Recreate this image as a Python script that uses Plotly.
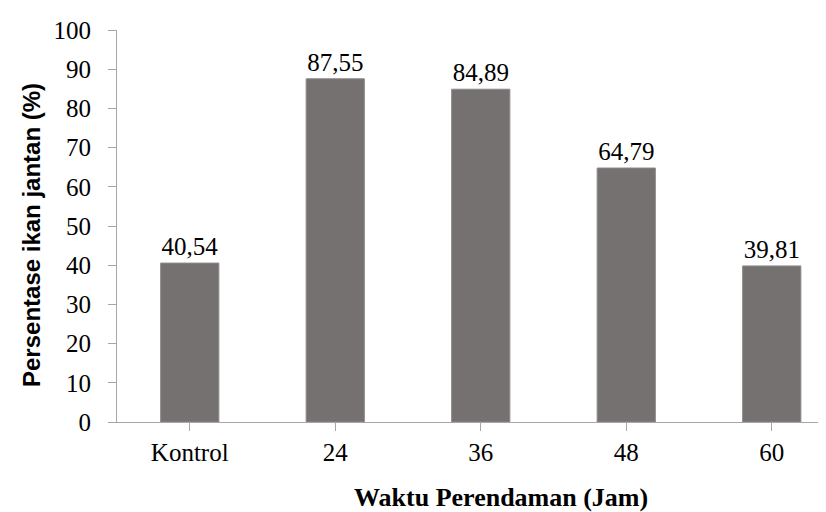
import plotly.graph_objects as go

categories = ["Kontrol", "24", "36", "48", "60"]
values = [40.54, 87.55, 84.89, 64.79, 39.81]
y_ticks = [0, 10, 20, 30, 40, 50, 60, 70, 80, 90, 100]

W, H = 826, 512
L, R, T, B = 109, 0, 22, 98
pw, ph = W - L - R, H - T - B

serif = "Liberation Serif"
axis_col = "#a6a6a6"

fig = go.Figure(go.Bar(
    x=list(range(len(categories))),
    y=values,
    width=0.4,
    marker=dict(color="#767171", line=dict(color="#8c8888", width=1)),
    texttemplate="%{y:.2f}",
    textposition="outside",
    textfont=dict(family=serif, size=25, color="#000"),
    cliponaxis=False,
))

fig.update_layout(
    width=W, height=H,
    margin=dict(l=L, r=R, t=T, b=B, pad=0),
    paper_bgcolor="white", plot_bgcolor="white",
    separators=", ",
    showlegend=False,
    font=dict(family=serif, size=25, color="#000"),
    bargap=0.6,
)

fig.update_xaxes(
    range=[-0.5, -0.5 + pw / 145.5],
    tickmode="array",
    tickvals=list(range(len(categories))),
    ticktext=categories,
    ticks="outside", ticklen=8, tickcolor=axis_col, tickwidth=1,
    tickson="boundaries",
    showline=True, linecolor=axis_col, linewidth=1,
    showgrid=False, zeroline=False,
    tickfont=dict(family=serif, size=25, color="#000"),
    ticklabelstandoff=0,
)

fig.update_yaxes(
    range=[0, 100],
    tickvals=y_ticks,
    ticks="outside", ticklen=8, tickcolor=axis_col, tickwidth=1,
    showline=True, linecolor=axis_col, linewidth=1,
    showgrid=False, zeroline=False,
    tickfont=dict(family=serif, size=25, color="#000"),
    ticklabelstandoff=12,
)

fig.add_annotation(
    text="<b>Persentase ikan jantan (%)</b>",
    xref="paper", yref="paper",
    x=(23 - L) / pw, y=(T + ph - 227) / ph,
    xanchor="center", yanchor="middle",
    textangle=-90, showarrow=False,
    font=dict(family="Liberation Sans", size=24, color="#000"),
)

fig.add_annotation(
    text="<b>Waktu Perendaman (Jam)</b>",
    xref="paper", yref="paper",
    x=(493 - L) / pw, y=(T + ph - 489) / ph,
    xanchor="center", yanchor="middle",
    showarrow=False,
    font=dict(family=serif, size=26, color="#000"),
)

fig.write_html("out.html")
